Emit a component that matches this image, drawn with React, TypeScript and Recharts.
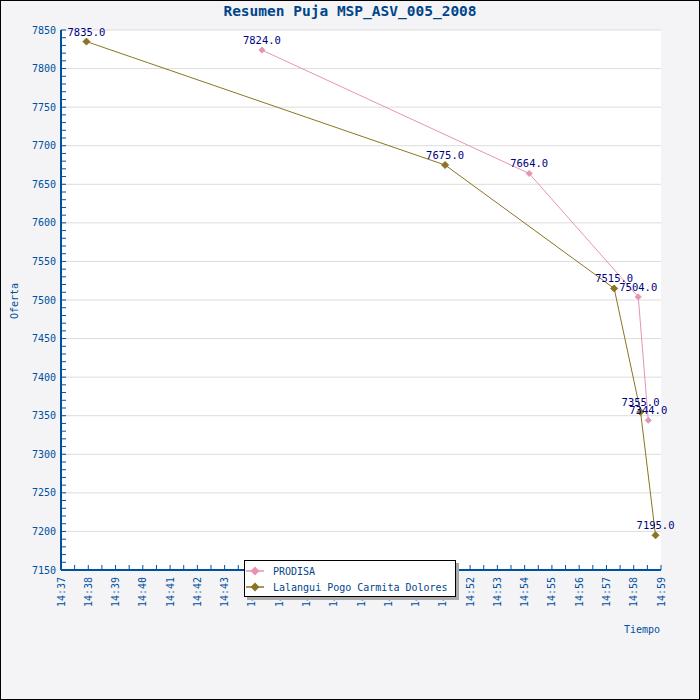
import React from "react";
import { LineChart, Line, XAxis, YAxis, CartesianGrid, LabelList } from "recharts";

// seconds after 14:37:00
const prodisaTimes = [442, 1030, 1270, 1292];
const prodisaValues = [7824, 7664, 7504, 7344];
const lalanguiTimes = [56, 845, 1217, 1275, 1308];
const lalanguiValues = [7835, 7675, 7515, 7355, 7195];

const seriesNames = ["PRODISA", "Lalangui Pogo Carmita Dolores"];
const seriesColors = ["#e694b4", "#8b7522"];

const xTicks = Array.from({ length: 45 }, (_, i) => i * 30);
const yTicks = Array.from({ length: 71 }, (_, i) => 7150 + i * 10);
const gridValues = [7200, 7250, 7300, 7350, 7400, 7450, 7500, 7550, 7600, 7650, 7700, 7750, 7800, 7850];

const AXIS = "#0050a0";
const FONT = "'DejaVu Sans Mono', monospace";

const toRows = (times: number[], values: number[]) => times.map((t, i) => ({ t, v: values[i] }));
const prodisa = toRows(prodisaTimes, prodisaValues);
const lalangui = toRows(lalanguiTimes, lalanguiValues);

const fmtTime = (s: number) => {
  const m = 37 + Math.floor(s / 60);
  return `14:${m}`;
};

const XTick = (props: any) => {
  const { x, y, payload } = props;
  const major = payload.value % 60 === 0;
  return (
    <g>
      <line x1={x} y1={y} x2={x} y2={y - 5} stroke={AXIS} strokeWidth={1} />
      {major && (
        <text
          x={x}
          y={y + 7}
          transform={`rotate(-90 ${x} ${y + 7})`}
          textAnchor="end"
          dominantBaseline="central"
          fill={AXIS}
          fontSize={10}
          fontFamily={FONT}
        >
          {fmtTime(payload.value)}
        </text>
      )}
    </g>
  );
};

const YTick = (props: any) => {
  const { x, y, payload } = props;
  const major = payload.value % 50 === 0;
  return (
    <g>
      <line x1={x} y1={y} x2={x + 5} y2={y} stroke={AXIS} strokeWidth={1} />
      {major && (
        <text x={x - 5} y={y} textAnchor="end" dominantBaseline="central" fill={AXIS} fontSize={10} fontFamily={FONT}>
          {payload.value}
        </text>
      )}
    </g>
  );
};

const diamond = (color: string, r: number) => (props: any) => {
  const { cx, cy, index } = props;
  if (cx == null || cy == null) return <g key={index} />;
  return (
    <polygon
      key={index}
      points={`${cx},${cy - r} ${cx + r},${cy} ${cx},${cy + r} ${cx - r},${cy}`}
      fill={color}
      stroke={color}
    />
  );
};

const ValueLabel = (props: any) => {
  const { x, y, value } = props;
  return (
    <text x={x} y={y - 10} textAnchor="middle" dominantBaseline="central" fill="#000080" fontSize={10.5} fontFamily={FONT}>
      {Number(value).toFixed(1)}
    </text>
  );
};

const LegendMark = ({ color }: { color: string }) => (
  <svg width={20} height={10} style={{ display: "block" }}>
    <line x1={0} y1={5} x2={18} y2={5} stroke={color} strokeWidth={1.5} />
    <polygon points="9,0.5 13.5,5 9,9.5 4.5,5" fill={color} />
  </svg>
);

export default function App() {
  return (
    <div style={{ position: "absolute", left: 0, top: 0, width: 700, height: 700, background: "#f4f4f6", fontFamily: FONT }}>
      <LineChart width={700} height={700} data={lalangui} margin={{ top: 30, right: 39, left: 16, bottom: 70 }}>
        <CartesianGrid fill="#ffffff" vertical={false} horizontalValues={gridValues} stroke="#dcdcdc" strokeWidth={1} />
        <XAxis
          dataKey="t"
          type="number"
          domain={[0, 1320]}
          ticks={xTicks}
          interval={0}
          height={60}
          tickSize={0}
          tickMargin={0}
          tickLine={false}
          tick={<XTick />}
          axisLine={{ stroke: AXIS, strokeWidth: 2 }}
          allowDuplicatedCategory={false}
        />
        <YAxis
          dataKey="v"
          type="number"
          domain={[7150, 7850]}
          ticks={yTicks}
          interval={0}
          width={45}
          tickSize={0}
          tickMargin={0}
          tickLine={false}
          tick={<YTick />}
          axisLine={{ stroke: AXIS, strokeWidth: 2 }}
        />
        <Line
          data={prodisa}
          dataKey="v"
          name={seriesNames[0]}
          stroke={seriesColors[0]}
          strokeWidth={1}
          dot={diamond(seriesColors[0], 3)}
          isAnimationActive={false}
        >
          <LabelList dataKey="v" content={<ValueLabel />} />
        </Line>
        <Line
          data={lalangui}
          dataKey="v"
          name={seriesNames[1]}
          stroke={seriesColors[1]}
          strokeWidth={1}
          dot={diamond(seriesColors[1], 3.5)}
          isAnimationActive={false}
        >
          <LabelList dataKey="v" content={<ValueLabel />} />
        </Line>
      </LineChart>

      <div style={{ position: "absolute", left: 0, top: 3, width: 700, textAlign: "center", color: "#00458a", fontWeight: "bold", fontSize: 14.5 }}>
        Resumen Puja MSP_ASV_005_2008
      </div>
      <div
        style={{
          position: "absolute",
          left: 14,
          top: 301,
          transform: "translate(-50%, -50%) rotate(-90deg)",
          color: AXIS,
          fontSize: 10,
          whiteSpace: "nowrap",
        }}
      >
        Oferta
      </div>
      <div style={{ position: "absolute", left: 624, top: 624, color: AXIS, fontSize: 10 }}>Tiempo</div>

      <div
        style={{
          position: "absolute",
          left: 244,
          top: 560,
          width: 210,
          height: 35,
          background: "#ffffff",
          border: "1px solid #000",
          boxShadow: "3px 3px 0 #aaaaaa",
          fontSize: 10,
          color: "#00458a",
        }}
      >
        {seriesNames.map((n, i) => (
          <div key={n} style={{ display: "flex", alignItems: "center", height: 16, marginTop: i === 0 ? 2 : 0, paddingLeft: 1 }}>
            <LegendMark color={seriesColors[i]} />
            <span style={{ marginLeft: 7 }}>{n}</span>
          </div>
        ))}
      </div>
      <div style={{ position: "absolute", left: 0, top: 0, width: 700, height: 700, boxSizing: "border-box", border: "1px solid #000", pointerEvents: "none" }} />
    </div>
  );
}
